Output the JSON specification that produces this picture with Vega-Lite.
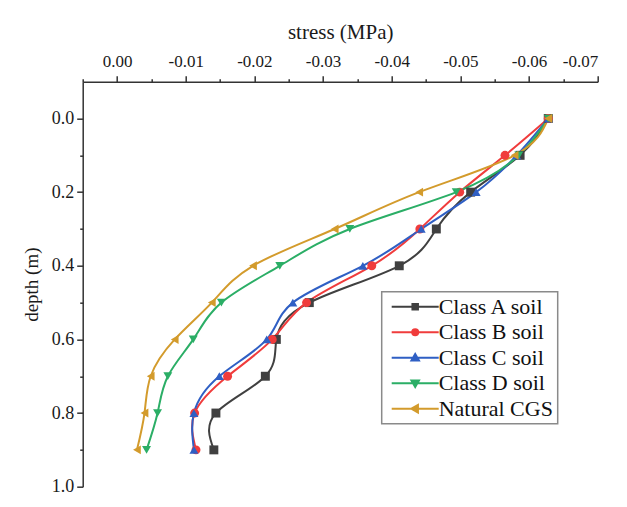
{
  "$schema": "https://vega.github.io/schema/vega-lite/v6.json",
  "width": 515,
  "height": 405,
  "autosize": {"type": "none"},
  "padding": {"left": 82.7, "top": 81.7, "right": 29.3, "bottom": 20.2},
  "background": "white",
  "config": {
    "view": {"stroke": null},
    "axis": {
      "domainColor": "#333333",
      "tickColor": "#333333",
      "domainWidth": 1.5,
      "tickWidth": 1.5,
      "labelFont": "Liberation Serif",
      "labelColor": "#1a1a1a",
      "titleFont": "Liberation Serif",
      "titleColor": "#1a1a1a",
      "titleFontWeight": "normal",
      "grid": false
    },
    "legend": {
      "orient": "none",
      "legendX": 299,
      "legendY": 210,
      "strokeColor": "#8a8a8a",
      "strokeWidth": 1.5,
      "fillColor": "white",
      "padding": 4,
      "labelFont": "Liberation Serif",
      "labelFontSize": 22,
      "labelColor": "#111111",
      "labelOffset": 31,
      "labelLimit": 300,
      "symbolSize": 100,
      "symbolStrokeWidth": 2,
      "symbolOpacity": 1,
      "rowPadding": 3.5
    }
  },
  "data": {
    "values": [
      {"soil": "Class A soil", "depth": 0.0, "stress": -0.0628},
      {"soil": "Class A soil", "depth": 0.1, "stress": -0.0587},
      {"soil": "Class A soil", "depth": 0.2, "stress": -0.0515},
      {"soil": "Class A soil", "depth": 0.3, "stress": -0.0465},
      {"soil": "Class A soil", "depth": 0.4, "stress": -0.0411},
      {"soil": "Class A soil", "depth": 0.5, "stress": -0.0280},
      {"soil": "Class A soil", "depth": 0.6, "stress": -0.0232},
      {"soil": "Class A soil", "depth": 0.7, "stress": -0.0216},
      {"soil": "Class A soil", "depth": 0.8, "stress": -0.0144},
      {"soil": "Class A soil", "depth": 0.9, "stress": -0.0141},
      {"soil": "Class B soil", "depth": 0.0, "stress": -0.0628},
      {"soil": "Class B soil", "depth": 0.1, "stress": -0.0565},
      {"soil": "Class B soil", "depth": 0.2, "stress": -0.0499},
      {"soil": "Class B soil", "depth": 0.3, "stress": -0.0441},
      {"soil": "Class B soil", "depth": 0.4, "stress": -0.0371},
      {"soil": "Class B soil", "depth": 0.5, "stress": -0.0276},
      {"soil": "Class B soil", "depth": 0.6, "stress": -0.0226},
      {"soil": "Class B soil", "depth": 0.7, "stress": -0.0161},
      {"soil": "Class B soil", "depth": 0.8, "stress": -0.0113},
      {"soil": "Class B soil", "depth": 0.9, "stress": -0.0115},
      {"soil": "Class C soil", "depth": 0.0, "stress": -0.0628},
      {"soil": "Class C soil", "depth": 0.1, "stress": -0.0582},
      {"soil": "Class C soil", "depth": 0.2, "stress": -0.0523},
      {"soil": "Class C soil", "depth": 0.3, "stress": -0.0443},
      {"soil": "Class C soil", "depth": 0.4, "stress": -0.0358},
      {"soil": "Class C soil", "depth": 0.5, "stress": -0.0256},
      {"soil": "Class C soil", "depth": 0.6, "stress": -0.0218},
      {"soil": "Class C soil", "depth": 0.7, "stress": -0.0149},
      {"soil": "Class C soil", "depth": 0.8, "stress": -0.0112},
      {"soil": "Class C soil", "depth": 0.9, "stress": -0.0112},
      {"soil": "Class D soil", "depth": 0.0, "stress": -0.0628},
      {"soil": "Class D soil", "depth": 0.1, "stress": -0.0585},
      {"soil": "Class D soil", "depth": 0.2, "stress": -0.0494},
      {"soil": "Class D soil", "depth": 0.3, "stress": -0.0339},
      {"soil": "Class D soil", "depth": 0.4, "stress": -0.0237},
      {"soil": "Class D soil", "depth": 0.5, "stress": -0.0152},
      {"soil": "Class D soil", "depth": 0.6, "stress": -0.0111},
      {"soil": "Class D soil", "depth": 0.7, "stress": -0.0074},
      {"soil": "Class D soil", "depth": 0.8, "stress": -0.0059},
      {"soil": "Class D soil", "depth": 0.9, "stress": -0.0043},
      {"soil": "Natural CGS", "depth": 0.0, "stress": -0.0628},
      {"soil": "Natural CGS", "depth": 0.1, "stress": -0.0579},
      {"soil": "Natural CGS", "depth": 0.2, "stress": -0.0440},
      {"soil": "Natural CGS", "depth": 0.3, "stress": -0.0317},
      {"soil": "Natural CGS", "depth": 0.4, "stress": -0.0198},
      {"soil": "Natural CGS", "depth": 0.5, "stress": -0.0138},
      {"soil": "Natural CGS", "depth": 0.6, "stress": -0.0084},
      {"soil": "Natural CGS", "depth": 0.7, "stress": -0.0049},
      {"soil": "Natural CGS", "depth": 0.8, "stress": -0.0040},
      {"soil": "Natural CGS", "depth": 0.9, "stress": -0.0029}
    ]
  },
  "layer": [
    {
      "mark": {"type": "line", "interpolate": "natural", "strokeWidth": 2},
      "encoding": {
        "x": {
          "field": "stress", "type": "quantitative",
          "scale": {"domain": [-0.07, 0.005], "reverse": true, "nice": false, "zero": false},
          "axis": {
            "orient": "top",
            "values": [0, -0.01, -0.02, -0.03, -0.04, -0.05, -0.06, -0.07],
            "labelExpr": "replace(format(datum.value, '.2f'), '\u2212', '-')",
            "labelFontSize": 17,
            "labelPadding": 5,
            "tickSize": 6,
            "title": "stress (MPa)",
            "titleFontSize": 21,
            "titlePadding": 10
          }
        },
        "y": {
          "field": "depth", "type": "quantitative",
          "scale": {"domain": [-0.1, 1.0], "reverse": true, "nice": false, "zero": false},
          "axis": {
            "orient": "left",
            "values": [0, 0.2, 0.4, 0.6, 0.8, 1.0],
            "format": ".1f",
            "labelFontSize": 18,
            "labelPadding": 3,
            "tickSize": 6,
            "title": "depth (m)",
            "titleFontSize": 19,
            "titlePadding": 10
          }
        },
        "color": {
          "field": "soil", "type": "nominal",
          "scale": {
            "domain": ["Class A soil", "Class B soil", "Class C soil", "Class D soil", "Natural CGS"],
            "range": ["#404040", "#F03C3C", "#2F5FC4", "#2BAE66", "#D39B2C"]
          },
          "legend": null
        },
        "order": {"field": "depth", "type": "quantitative"}
      }
    },
    {
      "mark": {"type": "point", "filled": true, "opacity": 1, "size": 80},
      "encoding": {
        "x": {"field": "stress", "type": "quantitative", "axis": null},
        "y": {"field": "depth", "type": "quantitative", "axis": null},
        "color": {"field": "soil", "type": "nominal", "legend": null},
        "shape": {
          "field": "soil", "type": "nominal",
          "scale": {
            "domain": ["Class A soil", "Class B soil", "Class C soil", "Class D soil", "Natural CGS"],
            "range": ["square", "circle", "triangle-up", "triangle-down", "triangle-left"]
          },
          "legend": null
        }
      }
    },
    {
      "transform": [{"filter": "false"}],
      "mark": {"type": "point", "filled": true, "opacity": 1},
      "encoding": {
        "x": {"field": "stress", "type": "quantitative", "axis": null},
        "y": {"field": "depth", "type": "quantitative", "axis": null},
        "fill": {
          "field": "soil", "type": "nominal",
          "scale": {
            "domain": ["Class A soil", "Class B soil", "Class C soil", "Class D soil", "Natural CGS"],
            "range": ["#404040", "#F03C3C", "#2F5FC4", "#2BAE66", "#D39B2C"]
          },
          "legend": {"title": null}
        },
        "stroke": {
          "field": "soil", "type": "nominal",
          "scale": {
            "domain": ["Class A soil", "Class B soil", "Class C soil", "Class D soil", "Natural CGS"],
            "range": ["#404040", "#F03C3C", "#2F5FC4", "#2BAE66", "#D39B2C"]
          },
          "legend": {"title": null}
        },
        "shape": {
          "field": "soil", "type": "nominal",
          "scale": {
            "domain": ["Class A soil", "Class B soil", "Class C soil", "Class D soil", "Natural CGS"],
            "range": [
              "M-1,0H8.4M3.15,-0.55H4.25V0.55H3.15Z",
              "M-1,0H8.4M4.3,0A0.6,0.6,0,1,1,3.1,0A0.6,0.6,0,1,1,4.3,0Z",
              "M-1,0H8.4M3.7,-0.75L4.45,0.55H2.95Z",
              "M-1,0H8.4M3.7,0.75L4.45,-0.55H2.95Z",
              "M-1,0H8.4M2.95,0L4.25,-0.75V0.75Z"
            ]
          },
          "legend": {"title": null}
        }
      }
    },
    {
      "transform": [{"filter": "false"}],
      "mark": {"type": "point"},
      "encoding": {
        "x": {
          "field": "stress", "type": "quantitative",
          "axis": {
            "orient": "top",
            "values": [0.005, -0.005, -0.015, -0.025, -0.035, -0.045, -0.055, -0.065],
            "labels": false, "domain": false, "tickSize": 3, "title": null
          }
        },
        "y": {
          "field": "depth", "type": "quantitative",
          "axis": {
            "orient": "left",
            "values": [0.1, 0.3, 0.5, 0.7, 0.9],
            "labels": false, "domain": false, "tickSize": 3, "title": null
          }
        }
      }
    }
  ],
  "resolve": {
    "scale": {"shape": "independent"},
    "axis": {"x": "independent", "y": "independent"},
    "legend": {"fill": "independent", "stroke": "independent", "shape": "independent", "color": "independent"}
  }
}
